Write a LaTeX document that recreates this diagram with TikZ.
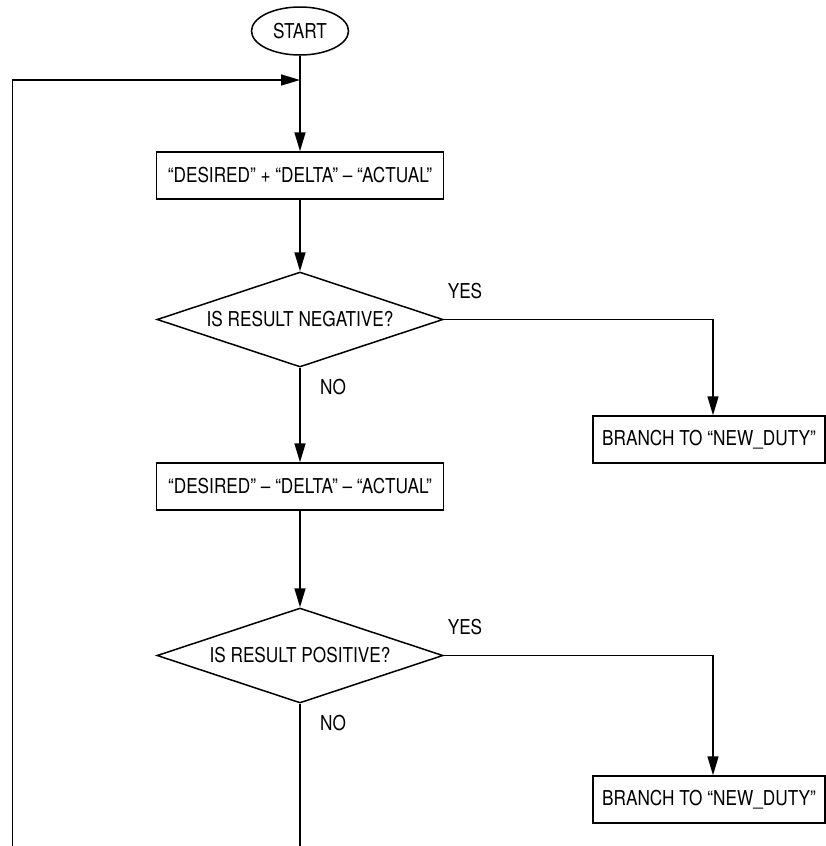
\documentclass[tikz,border=0pt]{standalone}
\usepackage{fontspec}
\setmainfont[FakeStretch=0.84]{TeX Gyre Heros}
\usetikzlibrary{shapes.geometric,arrows.meta,positioning}

\begin{document}
\begin{tikzpicture}[x=1pt, y=-1pt, line width=1.5pt,
    every node/.style={font=\fontsize{20.5}{24}\selectfont},
    flow/.style={-{Triangle[length=19pt,width=11pt]}},
    terminal/.style={draw, ellipse, inner sep=0pt, minimum width=97pt, minimum height=48pt},
    process/.style={draw, rectangle, inner sep=0pt, minimum width=287pt, minimum height=47pt},
    branchbox/.style={draw, rectangle, inner sep=0pt, minimum width=232pt, minimum height=47pt},
    decision/.style={draw, diamond, aspect=3, inner sep=0pt, minimum width=286pt, minimum height=95pt}]

    % Parameters
    \def\midx{300}   % x of the main column
    \def\leftx{12.7} % x of the return line
    \def\botty{846}  % bottom edge

    \useasboundingbox (0,0) rectangle (826,\botty);

    % Main column
    \node[terminal] (start) at (\midx,31) {START};
    \node[process] (addcheck) at (\midx,175.5) {“DESIRED” + “DELTA” – “ACTUAL”};
    \node[decision] (isneg) at (\midx,319.5) {IS RESULT NEGATIVE?};
    \node[process] (subcheck) at (\midx,486.5) {“DESIRED” – “DELTA” – “ACTUAL”};
    \node[decision] (ispos) at (\midx,655.5) {IS RESULT POSITIVE?};

    % Branch boxes on the right
    \node[branchbox] (newdutyA) at (709,439.5) {BRANCH TO “NEW\_DUTY”};
    \node[branchbox] (newdutyB) at (709,799.5) {BRANCH TO “NEW\_DUTY”};

    % Labels
    \node (yesA) at (465,291.5) {YES};
    \node (noA) at (333,387.5) {NO};
    \node (yesB) at (465,627.5) {YES};
    \node (noB) at (333,723.5) {NO};

    % Loop points
    \coordinate (loopjoin) at (\midx,80);
    \coordinate (loopcorner) at (\leftx,80);
    \coordinate (loopfoot) at (\leftx,\botty);
    \coordinate (mainfoot) at (\midx,\botty);

    % Connectors
    \draw[flow] (start) -- (addcheck);
    \draw[flow] (addcheck) -- (isneg);
    \draw[flow] (isneg) -- (subcheck);
    \draw[flow] (subcheck) -- (ispos);
    \draw (ispos) -- (mainfoot);
    \draw[flow] (isneg.east) -| ([xshift=4pt]newdutyA.north);
    \draw[flow] (ispos.east) -| ([xshift=4pt]newdutyB.north);
    \draw[flow] (loopfoot) -- (loopcorner) -- (loopjoin);
\end{tikzpicture}
\end{document}
